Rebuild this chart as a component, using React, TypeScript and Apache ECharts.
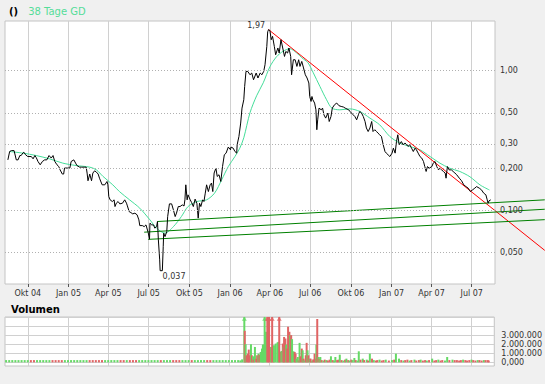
import React, { useEffect, useRef } from 'react';
import * as echarts from 'echarts';

const X_START = '2004-08-10T12:00:00';
const X_END = '2007-08-22T14:00:00';
const PRICE_MIN = 0.0297;
const PRICE_MAX = 2.271;
const VOL_MIN = -400000;
const VOL_MAX = 5000000;
const VOL_ARROW = 4800000;

const quarterDates = ['2004-10-01', '2005-01-01', '2005-04-01', '2005-07-01', '2005-10-01', '2006-01-01', '2006-04-01', '2006-07-01', '2006-10-01', '2007-01-01', '2007-04-01', '2007-07-01'];
const quarterLabels = ['Okt 04', 'Jan 05', 'Apr 05', 'Jul 05', 'Okt 05', 'Jan 06', 'Apr 06', 'Jul 06', 'Okt 06', 'Jan 07', 'Apr 07', 'Jul 07'];
const priceTickValues = [1, 0.5, 0.3, 0.2, 0.1, 0.05];
const priceTickLabels = ['1,00', '0,50', '0,30', '0,200', '0,100', '0,050'];
const volTickValues = [0, 1000000, 2000000, 3000000, 4000000, 5000000];
const volTickLabels = ['0,000', '1.000.000', '2.000.000', '3.000.000', '', ''];

const legendNames = ['()', '38 Tage GD'];
const annotationDates = ['2006-03-29', '2005-07-29'];
const annotationValues = [1.97, 0.037];
const annotationLabels = ['1,97', '0,037'];

const price: [string, number][] = [
  ['2004-08-17', 0.230], ['2004-08-21', 0.264], ['2004-08-25', 0.268], ['2004-08-31', 0.268], ['2004-09-05', 0.230], ['2004-09-09', 0.230], ['2004-09-13', 0.247], ['2004-09-16', 0.247], ['2004-09-20', 0.258], ['2004-09-22', 0.261], ['2004-09-26', 0.250], ['2004-10-01', 0.243], ['2004-10-09', 0.243], ['2004-10-13', 0.234], ['2004-10-17', 0.247], ['2004-10-20', 0.239], ['2004-10-24', 0.224], ['2004-10-29', 0.212], ['2004-11-03', 0.224], ['2004-11-08', 0.230], ['2004-11-13', 0.230], ['2004-11-18', 0.247], ['2004-11-23', 0.237], ['2004-11-27', 0.247], ['2004-12-01', 0.224], ['2004-12-06', 0.212], ['2004-12-10', 0.206], ['2004-12-13', 0.195], ['2004-12-18', 0.182], ['2004-12-21', 0.182], ['2004-12-23', 0.201], ['2004-12-30', 0.201],
  ['2005-01-04', 0.201], ['2005-01-07', 0.224], ['2005-01-13', 0.230], ['2005-01-17', 0.218], ['2005-01-20', 0.2095], ['2005-01-26', 0.204], ['2005-01-30', 0.204], ['2005-02-07', 0.204], ['2005-02-10', 0.204], ['2005-02-12', 0.185], ['2005-02-14', 0.163], ['2005-02-18', 0.182], ['2005-02-22', 0.163], ['2005-02-25', 0.185], ['2005-03-01', 0.192], ['2005-03-05', 0.188], ['2005-03-09', 0.182], ['2005-03-12', 0.170], ['2005-03-18', 0.1524], ['2005-03-24', 0.1524], ['2005-03-29', 0.161], ['2005-03-31', 0.1524], ['2005-04-02', 0.1256], ['2005-04-05', 0.119], ['2005-04-10', 0.1157], ['2005-04-14', 0.119], ['2005-04-16', 0.1065], ['2005-04-19', 0.1126], ['2005-04-23', 0.1157], ['2005-04-27', 0.1113], ['2005-05-03', 0.1126], ['2005-05-08', 0.119], ['2005-05-12', 0.1126], ['2005-05-14', 0.1077], ['2005-05-18', 0.098], ['2005-05-22', 0.0964], ['2005-05-26', 0.0944], ['2005-05-31', 0.0955], ['2005-06-05', 0.0929], ['2005-06-09', 0.0855], ['2005-06-11', 0.0778], ['2005-06-17', 0.0778], ['2005-06-21', 0.0765], ['2005-06-25', 0.0787], ['2005-06-30', 0.0694], ['2005-07-03', 0.0622], ['2005-07-04', 0.0810], ['2005-07-08', 0.0787], ['2005-07-12', 0.0787], ['2005-07-15', 0.0746], ['2005-07-19', 0.0765], ['2005-07-21', 0.0832], ['2005-07-23', 0.0615], ['2005-07-25', 0.0494], ['2005-07-26', 0.0442], ['2005-07-27', 0.037], ['2005-08-01', 0.037], ['2005-08-03', 0.0550], ['2005-08-04', 0.0687], ['2005-08-07', 0.0649], ['2005-08-11', 0.0705], ['2005-08-13', 0.0903], ['2005-08-17', 0.1113], ['2005-08-22', 0.1113], ['2005-08-26', 0.1008], ['2005-08-30', 0.0903], ['2005-09-02', 0.0956], ['2005-09-06', 0.1065], ['2005-09-10', 0.1065], ['2005-09-15', 0.1095], ['2005-09-19', 0.1075], ['2005-09-21', 0.119], ['2005-09-23', 0.1524], ['2005-09-26', 0.119], ['2005-09-28', 0.1292], ['2005-10-03', 0.119], ['2005-10-06', 0.114], ['2005-10-10', 0.1065], ['2005-10-14', 0.1204], ['2005-10-18', 0.1126], ['2005-10-21', 0.0880], ['2005-10-24', 0.1126], ['2005-10-27', 0.1065], ['2005-10-31', 0.119], ['2005-11-03', 0.1157], ['2005-11-06', 0.1329], ['2005-11-09', 0.1524], ['2005-11-13', 0.1364], ['2005-11-17', 0.1524], ['2005-11-20', 0.1568], ['2005-11-23', 0.1364], ['2005-11-26', 0.1852], ['2005-11-30', 0.2006], ['2005-12-03', 0.175], ['2005-12-07', 0.180], ['2005-12-11', 0.161], ['2005-12-15', 0.206], ['2005-12-19', 0.250], ['2005-12-23', 0.257], ['2005-12-28', 0.284],
  ['2006-01-02', 0.2715], ['2006-01-03', 0.284], ['2006-01-08', 0.279], ['2006-01-12', 0.264], ['2006-01-16', 0.257], ['2006-01-17', 0.295], ['2006-01-21', 0.338], ['2006-01-25', 0.422], ['2006-01-28', 0.540], ['2006-02-01', 0.620], ['2006-02-03', 0.772], ['2006-02-06', 0.989], ['2006-02-10', 0.989], ['2006-02-15', 0.936], ['2006-02-19', 0.963], ['2006-02-23', 0.862], ['2006-03-01', 0.963], ['2006-03-05', 0.887], ['2006-03-10', 0.963], ['2006-03-14', 0.936], ['2006-03-18', 0.989], ['2006-03-21', 1.104], ['2006-03-25', 1.494], ['2006-03-27', 1.90], ['2006-03-29', 1.97], ['2006-04-01', 1.94], ['2006-04-04', 1.668], ['2006-04-07', 1.762], ['2006-04-11', 1.494], ['2006-04-14', 1.302], ['2006-04-19', 1.455], ['2006-04-22', 1.339], ['2006-04-26', 1.668], ['2006-04-30', 1.455], ['2006-05-04', 1.266], ['2006-05-07', 1.375], ['2006-05-11', 1.339], ['2006-05-14', 1.455], ['2006-05-18', 1.266], ['2006-05-20', 0.936], ['2006-05-24', 1.199], ['2006-05-28', 1.199], ['2006-06-01', 1.074], ['2006-06-05', 1.199], ['2006-06-08', 1.074], ['2006-06-12', 1.166], ['2006-06-16', 1.047], ['2006-06-20', 0.936], ['2006-06-24', 0.887], ['2006-06-28', 0.817], ['2006-06-30', 0.654], ['2006-07-03', 0.603], ['2006-07-05', 0.654], ['2006-07-07', 0.620], ['2006-07-11', 0.587], ['2006-07-14', 0.525], ['2006-07-16', 0.378], ['2006-07-18', 0.445], ['2006-07-21', 0.540], ['2006-07-26', 0.525], ['2006-07-29', 0.540], ['2006-08-01', 0.484], ['2006-08-05', 0.458], ['2006-08-10', 0.498], ['2006-08-13', 0.433], ['2006-08-17', 0.470], ['2006-08-20', 0.540], ['2006-08-25', 0.571], ['2006-08-30', 0.587], ['2006-09-04', 0.562], ['2006-09-09', 0.555], ['2006-09-14', 0.550], ['2006-09-18', 0.540], ['2006-09-26', 0.525], ['2006-09-29', 0.511], ['2006-10-06', 0.484], ['2006-10-10', 0.470], ['2006-10-14', 0.445], ['2006-10-18', 0.484], ['2006-10-21', 0.511], ['2006-10-25', 0.498], ['2006-10-29', 0.470], ['2006-11-02', 0.433], ['2006-11-05', 0.389], ['2006-11-09', 0.367], ['2006-11-13', 0.389], ['2006-11-17', 0.433], ['2006-11-20', 0.367], ['2006-11-24', 0.378], ['2006-11-28', 0.367], ['2006-12-01', 0.358], ['2006-12-05', 0.348], ['2006-12-09', 0.338], ['2006-12-13', 0.295], ['2006-12-17', 0.264], ['2006-12-20', 0.257], ['2006-12-24', 0.250], ['2006-12-28', 0.243],
  ['2007-01-02', 0.257], ['2007-01-05', 0.279], ['2007-01-09', 0.257], ['2007-01-12', 0.311], ['2007-01-15', 0.348], ['2007-01-18', 0.295], ['2007-01-23', 0.311], ['2007-01-27', 0.295], ['2007-01-31', 0.304], ['2007-02-04', 0.295], ['2007-02-07', 0.287], ['2007-02-11', 0.295], ['2007-02-15', 0.279], ['2007-02-19', 0.264], ['2007-02-23', 0.279], ['2007-02-26', 0.2715], ['2007-03-02', 0.257], ['2007-03-06', 0.243], ['2007-03-10', 0.237], ['2007-03-14', 0.224], ['2007-03-17', 0.206], ['2007-03-20', 0.190], ['2007-03-23', 0.206], ['2007-03-27', 0.2006], ['2007-04-02', 0.206], ['2007-04-05', 0.218], ['2007-04-09', 0.224], ['2007-04-13', 0.206], ['2007-04-17', 0.195], ['2007-04-20', 0.2006], ['2007-04-24', 0.195], ['2007-04-28', 0.190], ['2007-05-02', 0.185], ['2007-05-04', 0.170], ['2007-05-07', 0.206], ['2007-05-11', 0.195], ['2007-05-16', 0.195], ['2007-05-20', 0.190], ['2007-05-24', 0.185], ['2007-05-28', 0.180], ['2007-06-03', 0.170], ['2007-06-08', 0.163], ['2007-06-13', 0.1524], ['2007-06-18', 0.148], ['2007-06-23', 0.1443], ['2007-06-28', 0.1364], ['2007-07-03', 0.1403], ['2007-07-08', 0.1443], ['2007-07-12', 0.148], ['2007-07-18', 0.1443], ['2007-07-23', 0.1403], ['2007-07-28', 0.1329], ['2007-08-02', 0.1292], ['2007-08-05', 0.119], ['2007-08-07', 0.1126], ['2007-08-09', 0.117], ['2007-08-13', 0.119],
];

const ma38: [string, number][] = [
  ['2004-08-21', 0.264], ['2004-09-20', 0.257], ['2004-10-20', 0.247], ['2004-11-19', 0.234], ['2004-12-19', 0.218], ['2005-01-18', 0.2095], ['2005-02-18', 0.204], ['2005-03-05', 0.195], ['2005-03-20', 0.175], ['2005-04-11', 0.1524], ['2005-04-26', 0.1364], ['2005-05-19', 0.119], ['2005-06-11', 0.1037], ['2005-07-04', 0.0855], ['2005-07-19', 0.0746], ['2005-08-07', 0.0687], ['2005-08-26', 0.0765], ['2005-09-13', 0.0903], ['2005-09-28', 0.1065], ['2005-10-18', 0.1157], ['2005-11-09', 0.119], ['2005-11-27', 0.1329], ['2005-12-13', 0.1655], ['2005-12-28', 0.206], ['2006-01-12', 0.243], ['2006-01-23', 0.279], ['2006-02-01', 0.331], ['2006-02-15', 0.50], ['2006-03-02', 0.662], ['2006-03-17', 0.820], ['2006-04-01', 1.068], ['2006-04-16', 1.260], ['2006-05-01', 1.380], ['2006-05-16', 1.438], ['2006-05-31', 1.346], ['2006-06-12', 1.239], ['2006-06-26', 1.141], ['2006-07-08', 0.967], ['2006-07-23', 0.772], ['2006-08-07', 0.620], ['2006-08-19', 0.540], ['2006-09-06', 0.525], ['2006-09-29', 0.533], ['2006-10-21', 0.511], ['2006-11-13', 0.458], ['2006-12-05', 0.410], ['2006-12-28', 0.338], ['2007-01-19', 0.304], ['2007-02-11', 0.287], ['2007-03-06', 0.2715], ['2007-03-29', 0.243], ['2007-04-20', 0.218], ['2007-05-12', 0.2006], ['2007-06-04', 0.190], ['2007-06-27', 0.174], ['2007-07-20', 0.152], ['2007-08-10', 0.140],
];

const resistanceLine: [string, number][] = [['2006-03-29', 1.97], ['2007-12-13', 0.0517]];
const supportLineA: [string, number][] = [['2005-07-21', 0.0832], ['2007-12-13', 0.119]];
const supportLineB: [string, number][] = [['2005-06-21', 0.0698], ['2007-12-13', 0.1019]];
const supportLineC: [string, number][] = [['2005-06-30', 0.0620], ['2007-12-13', 0.0858]];

// [date, volume, 1 = up (green) / 0 = down (red)]
const volQuiet: [string, number, number][] = [
  ['2004-08-13', 250000, 1], ['2004-08-20', 250000, 1], ['2004-08-27', 250000, 1], ['2004-09-03', 250000, 1], ['2004-09-10', 250000, 1], ['2004-09-17', 250000, 1], ['2004-09-24', 250000, 1], ['2004-10-01', 250000, 1], ['2004-10-08', 250000, 0], ['2004-10-15', 250000, 0], ['2004-10-22', 250000, 1], ['2004-10-29', 250000, 1], ['2004-11-05', 250000, 1], ['2004-11-12', 250000, 1], ['2004-11-19', 250000, 1], ['2004-11-26', 250000, 0], ['2004-12-03', 250000, 0], ['2004-12-10', 250000, 0], ['2004-12-17', 250000, 0], ['2004-12-24', 250000, 1], ['2004-12-31', 250000, 1],
  ['2005-01-07', 250000, 1], ['2005-01-14', 250000, 1], ['2005-01-21', 250000, 1], ['2005-01-28', 250000, 1], ['2005-02-04', 250000, 1], ['2005-02-11', 250000, 1], ['2005-02-18', 250000, 0], ['2005-02-25', 250000, 0], ['2005-03-04', 250000, 0], ['2005-03-11', 250000, 0], ['2005-03-18', 250000, 0], ['2005-03-25', 250000, 1], ['2005-04-01', 250000, 1], ['2005-04-08', 250000, 1], ['2005-04-15', 250000, 1], ['2005-04-22', 250000, 1], ['2005-04-29', 250000, 0], ['2005-05-06', 250000, 0], ['2005-05-13', 250000, 1], ['2005-05-20', 250000, 0], ['2005-05-27', 250000, 0], ['2005-06-03', 250000, 0], ['2005-06-10', 250000, 1], ['2005-06-17', 250000, 1], ['2005-06-24', 250000, 1], ['2005-07-01', 250000, 1], ['2005-07-08', 250000, 1], ['2005-07-15', 250000, 1], ['2005-07-22', 250000, 1], ['2005-07-29', 250000, 0], ['2005-08-05', 250000, 1], ['2005-08-12', 250000, 1], ['2005-08-19', 250000, 1], ['2005-08-26', 250000, 0], ['2005-09-02', 250000, 0], ['2005-09-09', 250000, 0], ['2005-09-16', 250000, 1], ['2005-09-23', 250000, 1], ['2005-09-30', 250000, 1], ['2005-10-07', 250000, 0], ['2005-10-14', 250000, 1], ['2005-10-21', 250000, 1], ['2005-10-28', 250000, 1], ['2005-11-04', 250000, 1], ['2005-11-11', 250000, 0], ['2005-11-18', 250000, 0], ['2005-11-25', 250000, 1], ['2005-12-02', 250000, 1], ['2005-12-09', 250000, 1], ['2005-12-16', 250000, 1], ['2005-12-23', 250000, 1], ['2005-12-30', 250000, 1],
  ['2006-01-06', 250000, 1], ['2006-01-13', 250000, 1], ['2006-01-20', 250000, 1],
];

const volActive: [string, number, number][] = [
  ['2006-01-25', 220000, 1], ['2006-01-29', 330000, 1], ['2006-02-03', 5500000, 1], ['2006-02-04', 3480000, 0], ['2006-02-06', 2000000, 1], ['2006-02-08', 780000, 0], ['2006-02-11', 960000, 0], ['2006-02-13', 1410000, 0], ['2006-02-15', 780000, 0], ['2006-02-18', 2000000, 1], ['2006-02-20', 780000, 0], ['2006-02-23', 670000, 1], ['2006-02-24', 300000, 0], ['2006-02-27', 1700000, 1], ['2006-03-02', 410000, 0], ['2006-03-04', 780000, 0], ['2006-03-07', 960000, 1], ['2006-03-09', 850000, 0], ['2006-03-12', 1150000, 1], ['2006-03-15', 1520000, 1], ['2006-03-17', 1960000, 1], ['2006-03-19', 1960000, 1], ['2006-03-21', 5500000, 1], ['2006-03-24', 3370000, 1], ['2006-03-27', 5500000, 0], ['2006-03-29', 5500000, 0], ['2006-03-31', 5500000, 0], ['2006-04-03', 1700000, 0], ['2006-04-05', 1700000, 1], ['2006-04-07', 5500000, 0], ['2006-04-10', 590000, 0], ['2006-04-11', 1890000, 1], ['2006-04-15', 2070000, 1], ['2006-04-19', 2190000, 1], ['2006-04-21', 2260000, 1], ['2006-04-23', 5500000, 0], ['2006-04-25', 1150000, 0], ['2006-04-28', 1260000, 1], ['2006-05-01', 2070000, 0], ['2006-05-03', 1700000, 1], ['2006-05-04', 2800000, 0], ['2006-05-07', 2630000, 0], ['2006-05-09', 1960000, 1], ['2006-05-11', 1520000, 0], ['2006-05-13', 3930000, 0], ['2006-05-16', 3370000, 0], ['2006-05-18', 3000000, 1], ['2006-05-20', 3000000, 0], ['2006-05-22', 2560000, 1], ['2006-05-25', 1220000, 1], ['2006-05-28', 1150000, 0], ['2006-05-30', 960000, 0], ['2006-06-01', 410000, 1], ['2006-06-04', 590000, 1], ['2006-06-06', 220000, 0], ['2006-06-08', 2150000, 1], ['2006-06-10', 670000, 0], ['2006-06-13', 1520000, 0], ['2006-06-15', 1330000, 1], ['2006-06-17', 410000, 0], ['2006-06-19', 220000, 1], ['2006-06-22', 780000, 0], ['2006-06-24', 2150000, 0], ['2006-06-26', 1330000, 1], ['2006-06-28', 780000, 0], ['2006-07-01', 410000, 1], ['2006-07-03', 410000, 0], ['2006-07-05', 110000, 0], ['2006-07-07', 220000, 1], ['2006-07-09', 330000, 0], ['2006-07-12', 960000, 0], ['2006-07-14', 410000, 0], ['2006-07-16', 1960000, 1], ['2006-07-18', 4780000, 0], ['2006-07-21', 590000, 1], ['2006-07-23', 410000, 0], ['2006-07-25', 590000, 1],
];

const volTail: [string, number, number][] = [
  ['2006-07-28', 250000, 0], ['2006-08-01', 200000, 1], ['2006-08-04', 300000, 0], ['2006-08-08', 250000, 1], ['2006-08-11', 200000, 0], ['2006-08-15', 300000, 0], ['2006-08-18', 670000, 1], ['2006-08-22', 250000, 0], ['2006-08-25', 200000, 1], ['2006-08-28', 590000, 1], ['2006-09-01', 250000, 0], ['2006-09-04', 300000, 0], ['2006-09-07', 850000, 1], ['2006-09-11', 250000, 0], ['2006-09-15', 200000, 1], ['2006-09-19', 300000, 0], ['2006-09-22', 410000, 1], ['2006-09-26', 250000, 0], ['2006-09-29', 200000, 1], ['2006-10-03', 300000, 0], ['2006-10-06', 250000, 1], ['2006-10-10', 480000, 1], ['2006-10-13', 250000, 0], ['2006-10-17', 200000, 1], ['2006-10-20', 1220000, 1], ['2006-10-24', 300000, 0], ['2006-10-29', 410000, 1], ['2006-11-01', 250000, 0], ['2006-11-07', 300000, 1], ['2006-11-10', 200000, 0], ['2006-11-14', 960000, 1], ['2006-11-19', 410000, 0], ['2006-11-23', 250000, 1], ['2006-11-28', 200000, 0], ['2006-12-01', 250000, 0], ['2006-12-06', 300000, 1], ['2006-12-11', 200000, 0], ['2006-12-15', 250000, 0], ['2006-12-20', 300000, 1], ['2006-12-27', 200000, 0],
  ['2007-01-03', 250000, 1], ['2007-01-08', 300000, 0], ['2007-01-12', 960000, 1], ['2007-01-19', 410000, 1], ['2007-01-24', 250000, 0], ['2007-01-29', 200000, 1], ['2007-02-02', 250000, 0], ['2007-02-07', 300000, 0], ['2007-02-12', 200000, 1], ['2007-02-16', 250000, 0], ['2007-02-23', 300000, 1], ['2007-02-27', 200000, 0], ['2007-03-05', 250000, 0], ['2007-03-09', 300000, 1], ['2007-03-14', 200000, 0], ['2007-03-19', 250000, 0], ['2007-03-23', 200000, 1], ['2007-03-28', 250000, 0], ['2007-04-04', 410000, 1], ['2007-04-09', 200000, 0], ['2007-04-13', 250000, 0], ['2007-04-18', 300000, 1], ['2007-04-23', 200000, 0], ['2007-04-27', 250000, 0], ['2007-05-03', 200000, 1], ['2007-05-08', 590000, 1], ['2007-05-13', 250000, 0], ['2007-05-20', 300000, 1], ['2007-05-25', 250000, 0], ['2007-05-30', 250000, 0], ['2007-06-04', 200000, 0], ['2007-06-08', 250000, 0], ['2007-06-13', 300000, 1], ['2007-06-18', 250000, 0], ['2007-06-22', 200000, 0], ['2007-06-27', 250000, 0], ['2007-07-02', 300000, 1], ['2007-07-06', 250000, 0], ['2007-07-11', 200000, 0], ['2007-07-16', 250000, 1], ['2007-07-20', 250000, 0], ['2007-07-25', 200000, 0], ['2007-07-30', 250000, 1], ['2007-08-03', 250000, 0], ['2007-08-08', 250000, 0], ['2007-08-10', 200000, 0],
];

const FONT = 'DejaVu Sans';
const UP_COLOR = '#66d966';
const DOWN_COLOR = '#e06464';

const PLOT_LEFT = 5;
const PLOT_WIDTH = 490;
const OVERLAY_WIDTH = 540;

const ts = (s: string) => new Date(s.length > 10 ? s : s + 'T00:00:00').getTime();
const toPts = (arr: [string, number][]) => arr.map(([d, v]) => [ts(d), v]);

export default function App() {
  const ref = useRef<HTMLDivElement>(null);

  useEffect(() => {
    if (!ref.current) return;
    const chart = echarts.init(ref.current, undefined, { renderer: 'svg' });
    const xMin = ts(X_START);
    const xMax = ts(X_END);
    // same time scale as the main plot, but stretched to the right edge of the picture
    const xMaxOverlay = xMin + ((xMax - xMin) * OVERLAY_WIDTH) / PLOT_WIDTH;
    const qTicks = quarterDates.map(ts);
    const qLabel = (v: number) => {
      const i = qTicks.findIndex((t) => Math.abs(t - v) < 43200000);
      return i >= 0 ? quarterLabels[i] : '';
    };
    const vLabel = (v: number) => {
      const i = volTickValues.indexOf(v);
      return i >= 0 ? volTickLabels[i] : '';
    };
    const allVol = [...volQuiet, ...volActive, ...volTail];
    const volData = allVol.map(([d, v, up]) => ({
      value: [ts(d), v],
      itemStyle: { color: up ? UP_COLOR : DOWN_COLOR },
    }));
    const overflow = allVol
      .filter(([, v]) => v > VOL_MAX)
      .map(([d, , up]) => ({ value: [ts(d), VOL_ARROW], itemStyle: { color: up ? UP_COLOR : DOWN_COLOR } }));

    const trend = (data: [string, number][], color: string) => ({
      type: 'line',
      xAxisIndex: 2,
      yAxisIndex: 2,
      data: toPts(data),
      symbol: 'none',
      silent: true,
      lineStyle: { color, width: 1 },
      z: 3,
    });

    chart.setOption({
      animation: false,
      backgroundColor: '#f0f0f0',
      textStyle: { fontFamily: FONT },
      title: {
        text: 'Volumen',
        left: 11,
        top: 304,
        padding: 0,
        textStyle: { fontSize: 10, fontWeight: 'bold', color: '#000', fontFamily: FONT },
      },
      legend: {
        left: 4,
        top: 5,
        padding: 0,
        icon: 'none',
        itemWidth: 0,
        itemHeight: 12,
        itemGap: 5,
        selectedMode: false,
        data: [
          { name: legendNames[0], textStyle: { fontWeight: 'bold', color: '#000', fontSize: 10, fontFamily: FONT } },
          { name: legendNames[1], textStyle: { color: '#55dd99', fontSize: 10, fontFamily: FONT } },
        ],
      },
      grid: [
        { left: PLOT_LEFT, top: 21, width: PLOT_WIDTH, height: 263, show: true, backgroundColor: '#fff', borderColor: '#c4c4c4', borderWidth: 1 },
        { left: PLOT_LEFT, top: 317, width: PLOT_WIDTH, height: 49, show: true, backgroundColor: '#fff', borderColor: '#c4c4c4', borderWidth: 1 },
        { left: PLOT_LEFT, top: 21, width: OVERLAY_WIDTH, height: 263, show: false },
      ],
      xAxis: [
        {
          type: 'value',
          gridIndex: 0,
          min: xMin,
          max: xMax,
          axisLine: { show: false, onZero: false },
          axisTick: { show: true, customValues: qTicks, length: 3, lineStyle: { color: '#555' } },
          axisLabel: { customValues: qTicks, formatter: qLabel, fontSize: 8, color: '#333', margin: 5, fontFamily: FONT },
          splitLine: { show: true, lineStyle: { color: '#d0d0d0', width: 1 } },
        },
        {
          type: 'value',
          gridIndex: 1,
          min: xMin,
          max: xMax,
          axisLine: { show: false, onZero: false },
          axisTick: { show: false, customValues: qTicks },
          axisLabel: { show: false, customValues: qTicks },
          splitLine: { show: true, lineStyle: { color: '#d0d0d0', width: 1 } },
        },
        {
          type: 'value',
          gridIndex: 2,
          min: xMin,
          max: xMaxOverlay,
          show: false,
        },
      ],
      yAxis: [
        {
          type: 'log',
          gridIndex: 0,
          position: 'right',
          min: PRICE_MIN,
          max: PRICE_MAX,
          axisLine: { show: false },
          axisTick: { show: false },
          axisLabel: { show: false },
          splitLine: { show: false },
        },
        {
          type: 'value',
          gridIndex: 1,
          position: 'right',
          min: VOL_MIN,
          max: VOL_MAX,
          axisLine: { show: false },
          axisTick: { show: false, customValues: volTickValues },
          axisLabel: { customValues: volTickValues, formatter: vLabel, fontSize: 8, color: '#333', margin: 7, fontFamily: FONT },
          splitLine: { show: true, lineStyle: { color: '#d0d0d0', width: 1 } },
        },
        {
          type: 'log',
          gridIndex: 2,
          min: PRICE_MIN,
          max: PRICE_MAX,
          show: false,
        },
      ],
      series: [
        {
          name: legendNames[1],
          type: 'line',
          xAxisIndex: 0,
          yAxisIndex: 0,
          data: toPts(ma38),
          symbol: 'none',
          smooth: 0.3,
          lineStyle: { color: '#44dd99', width: 1 },
          itemStyle: { color: '#44dd99' },
          z: 2,
          markLine: {
            silent: true,
            symbol: ['none', 'none'],
            lineStyle: { color: '#b0b0b0', type: [1, 2], width: 1 },
            label: { position: 'end', distance: 5, fontSize: 8, color: '#333', fontFamily: FONT },
            emphasis: { disabled: true },
            data: priceTickValues.map((v, i) => ({ yAxis: v, label: { formatter: priceTickLabels[i] } })),
          },
        },
        trend(resistanceLine, '#ff0000'),
        trend(supportLineA, '#008000'),
        trend(supportLineB, '#008000'),
        trend(supportLineC, '#008000'),
        {
          name: legendNames[0],
          type: 'line',
          xAxisIndex: 0,
          yAxisIndex: 0,
          data: toPts(price),
          symbol: 'none',
          lineStyle: { color: '#000', width: 1 },
          itemStyle: { color: '#000' },
          z: 4,
          markPoint: {
            symbol: 'circle',
            symbolSize: 1,
            itemStyle: { color: 'rgba(0,0,0,0)' },
            silent: true,
            data: [
              {
                coord: [ts(annotationDates[0]), annotationValues[0]],
                value: annotationLabels[0],
                label: { show: true, position: 'left', distance: 3, offset: [0, -4], formatter: annotationLabels[0], fontSize: 8, color: '#333', fontFamily: FONT },
              },
              {
                coord: [ts(annotationDates[1]), annotationValues[1]],
                value: annotationLabels[1],
                label: { show: true, position: 'bottom', distance: 1, offset: [13, 0], formatter: annotationLabels[1], fontSize: 8, color: '#333', fontFamily: FONT },
              },
            ],
          },
        },
        {
          type: 'bar',
          xAxisIndex: 1,
          yAxisIndex: 1,
          data: volData,
          barWidth: 2,
          silent: true,
        },
        {
          type: 'scatter',
          xAxisIndex: 1,
          yAxisIndex: 1,
          data: overflow,
          symbol: 'triangle',
          symbolSize: [5, 4],
          silent: true,
          z: 3,
        },
      ],
    });
    return () => chart.dispose();
  }, []);

  return <div ref={ref} style={{ position: 'fixed', left: 0, top: 0, width: 545, height: 384 }} />;
}
